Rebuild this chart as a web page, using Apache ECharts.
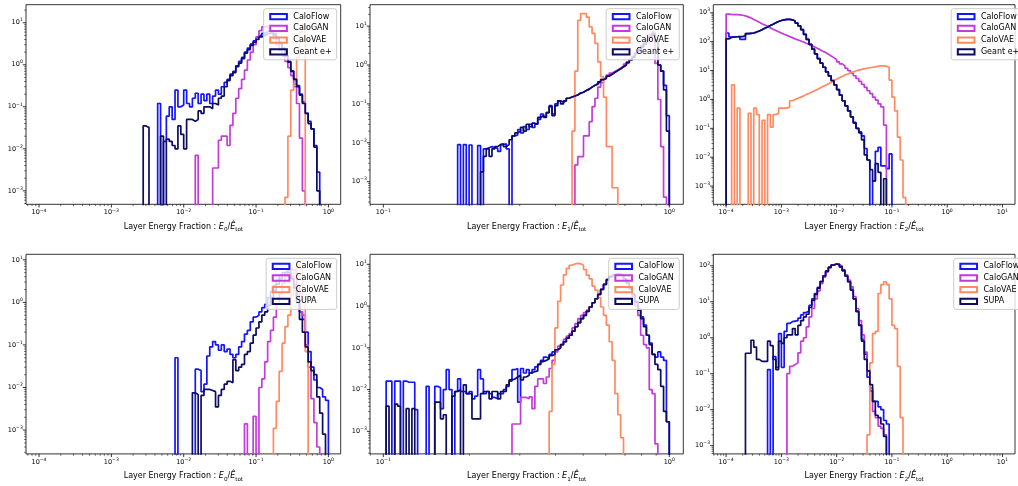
<!DOCTYPE html>
<html>
<head>
<meta charset="utf-8">
<script src="https://cdn.jsdelivr.net/npm/echarts@6/dist/echarts.min.js"></script>
<style>
  html, body { margin: 0; padding: 0; background: #ffffff; }
  #chart { width: 1018px; height: 486px; }
</style>
</head>
<body>
<div id="chart"></div>
<script>
// ---------------------------------------------------------------
// Binning of each layer: [log10 first edge, log10 last edge, bins]
// ---------------------------------------------------------------
const binsE0 = [-4, 0, 100];
const binsE1 = [-1, 0, 100];
const binsE2 = [-4, 1, 100];

const namesTop = ['CaloFlow', 'CaloGAN', 'CaloVAE', 'Geant e+'];
const namesBottom = ['CaloFlow', 'CaloGAN', 'CaloVAE', 'SUPA'];
const lineColors = ['#1414ff', '#c43bdc', '#ff8a62', '#0c0c60'];

// Visible axis ranges (log10) of each panel
const xRangeE0 = [-4.18, 0.17];
const xRangeE1 = [-1.0465, 0.049];
const xRangeE2 = [-4.232, 1.227];
const yRanges = [[-3.32, 1.43], [-3.58, 1.55], [-3.63, 3.28], [-3.56, 1.13], [-3.54, 1.24], [-3.23, 2.32]];

// ---------------------------------------------------------------
// Normalised histogram heights: index of first filled bin + heights
// ---------------------------------------------------------------
// Layer 0, Geant e+ comparison
const e0TopFlowFirst = 41;
const e0TopFlow = [0.12, 0, 0.015, 0.06, 0.1, 0.05, 0.25, 0.1, 0.11, 0.25, 0.12, 0.1, 0.16, 0.21, 0.12, 0.2, 0.14, 0.2, 0.12, 0.18, 0.25, 0.2, 0.3, 0.38, 0.45, 0.6, 0.7, 0.95, 1.2, 1.5, 2.0, 2.5, 3.1, 3.7, 4.4, 5.0, 5.6, 6.2, 6.6, 6.3, 5.5, 4.5, 3.4, 2.5, 1.7, 1.2, 0.72, 0.45, 0.32, 0.2, 0.13, 0.07, 0.045, 0.03, 0.012, 0.0028];
const e0TopGanFirst = 54;
const e0TopGan = [0.007, 0, 0, 0, 0, 0, 0.0035, 0.0035, 0.016, 0.02, 0.02, 0.012, 0.036, 0.07, 0.16, 0.27, 0.45, 0.75, 1.3, 2.0, 3.0, 4.6, 6.5, 8.0, 8.5, 7.5, 5.8, 4.2, 3.0, 2.2, 1.6, 1.2, 0.85, 0.55, 0.3, 0.12, 0.018, 0.001];
const e0TopVaeFirst = 85;
const e0TopVae = [0.0007, 0.02, 0.25, 0.35, 1.5, 6, 9];
const e0TopGeantFirst = 36;
const e0TopGeant = [0.035, 0.032, 0, 0, 0, 0, 0.02, 0, 0.017, 0.015, 0.012, 0.01, 0.035, 0.022, 0.01, 0.05, 0.05, 0.045, 0.05, 0.08, 0.07, 0.1, 0.1, 0.09, 0.12, 0.11, 0.16, 0.18, 0.3, 0.42, 0.55, 0.65, 0.9, 1.1, 1.4, 1.9, 2.3, 2.9, 3.4, 4.0, 4.6, 5.0, 5.4, 5.7, 5.6, 5.0, 4.2, 3.2, 2.4, 1.6, 1.15, 0.7, 0.45, 0.3, 0.19, 0.12, 0.07, 0.04, 0.03, 0.011, 0.001];

// Layer 1, Geant e+ comparison
const e1TopFlowFirst = 26;
const e1TopFlow = [0.009, 0, 0.009, 0, 0.0088, 0, 0, 0.0085, 0, 0.007, 0.0075, 0.008, 0.0075, 0.0072, 0.006, 0.009, 0.0095, 0.007, 0, 0.015, 0.016, 0.022, 0.018, 0.026, 0.022, 0.03, 0.025, 0.03, 0.04, 0.055, 0.045, 0.06, 0.09, 0.055, 0.1, 0.12, 0.11, 0.12, 0.14, 0.15, 0.16, 0.17, 0.19, 0.2, 0.22, 0.24, 0.27, 0.3, 0.33, 0.37, 0.42, 0.46, 0.52, 0.58, 0.65, 0.72, 0.8, 0.9, 1.0, 1.15, 1.35, 1.6, 2.0, 2.4, 2.9, 3.5, 4.3, 5.3, 6.3, 4.5, 1.0, 0.7, 0.3, 0.05];
const e1TopGanFirst = 67;
const e1TopGan = [0.0027, 0.0044, 0.0044, 0.015, 0.015, 0.035, 0.085, 0.14, 0.27, 0.35, 0.45, 0.55, 0.62, 0.68, 0.75, 0.83, 0.93, 1.05, 1.2, 1.4, 1.7, 2.1, 2.6, 3.2, 3.9, 4.8, 6.0, 7.0, 1.1, 0.13, 0.008, 0.0004];
const e1TopVaeFirst = 66;
const e1TopVae = [0.02, 0.7, 14, 21, 21, 17, 9.5, 6.5, 3.6, 1.2, 0.5, 0.15, 0.008, 0.008, 0.0007, 0.0007];
const e1TopGeantFirst = 34;
const e1TopGeant = [0.0018, 0.0045, 0.007, 0.0045, 0.007, 0.008, 0.009, 0.0095, 0.008, 0.009, 0.012, 0.015, 0.018, 0.02, 0.025, 0.02, 0.03, 0.026, 0.032, 0.03, 0.045, 0.05, 0.045, 0.06, 0.085, 0.05, 0.09, 0.12, 0.1, 0.12, 0.14, 0.15, 0.16, 0.17, 0.19, 0.2, 0.22, 0.24, 0.27, 0.3, 0.32, 0.37, 0.42, 0.46, 0.52, 0.58, 0.65, 0.72, 0.8, 0.9, 1.0, 1.15, 1.35, 1.6, 2.0, 2.4, 2.9, 3.5, 4.3, 5.3, 6.2, 4.0, 1.0, 0.7, 0.23, 0.02];

// Layer 2, Geant e+ comparison
const e2TopFlowFirst = 0;
const e2TopFlow = [200, 145, 145, 148, 150, 120, 120, 190, 195, 200, 215, 235, 260, 290, 320, 360, 400, 450, 500, 540, 570, 590, 590, 570, 520, 440, 350, 260, 180, 120, 80, 55, 38, 26, 18, 13, 9, 6.5, 4.5, 3.2, 2.2, 1.4, 0.9, 0.6, 0.4, 0.25, 0.15, 0.1, 0.075, 0.055, 0.02, 0.008, 0, 0.0015, 0.016, 0.022, 0.005, 0.005, 0.004, 0.013];
const e2TopGanFirst = 0;
const e2TopGan = [900, 880, 870, 860, 850, 820, 780, 720, 660, 590, 530, 470, 420, 380, 340, 300, 270, 245, 220, 200, 180, 165, 150, 138, 125, 115, 106, 97, 88, 80, 73, 66, 59, 53, 47, 42, 37, 32, 28, 24, 20, 17, 14.5, 12, 10, 8.2, 6.6, 5.3, 4.2, 3.3, 2.6, 2.0, 1.6, 1.2, 0.95, 0.7, 0.55, 0.13];
const e2TopVaeFirst = 2;
const e2TopVae = [3.2, 0, 0.5, 0, 0, 0, 0.33, 0, 0.5, 0.3, 0, 0.19, 0, 0.3, 0.11, 0.3, 0.33, 0.5, 0.5, 0.5, 0.55, 0.9, 1.0, 1.1, 1.2, 1.3, 1.5, 1.6, 1.8, 2.0, 2.2, 2.5, 2.8, 3.1, 3.5, 3.9, 4.5, 5.0, 5.6, 6.2, 7.0, 7.6, 8.3, 9.0, 9.7, 10.3, 11, 11.5, 12, 12.5, 13, 13.5, 14, 14.5, 14.5, 14, 13, 4.7, 1.2, 0.4, 0.05, 0.008, 0.0004];
const e2TopGeantFirst = 0;
const e2TopGeant = [125, 140, 145, 148, 150, 150, 160, 190, 195, 200, 215, 235, 260, 290, 320, 360, 400, 450, 500, 540, 570, 590, 590, 570, 520, 440, 350, 260, 180, 120, 80, 55, 38, 26, 18, 13, 9, 6.5, 4.5, 3.2, 2.2, 1.4, 0.9, 0.6, 0.4, 0.25, 0.16, 0.1, 0.07, 0.04, 0.012, 0.008, 0.0037, 0.0015, 0.006, 0.003, 0, 0.0018];

// Layer 0, SUPA comparison
const e0BotFlowFirst = 47;
const e0BotFlow = [0.05, 0, 0, 0, 0, 0, 0, 0.027, 0.025, 0.008, 0.012, 0.055, 0.09, 0.12, 0.1, 0.075, 0.1, 0.07, 0.08, 0.06, 0.05, 0.06, 0.09, 0.12, 0.18, 0.22, 0.35, 0.45, 0.5, 0.6, 0.75, 0.9, 1.3, 1.8, 2.5, 3.3, 4.2, 5.0, 5.5, 5.2, 4.0, 2.5, 1.2, 0.6, 0.4, 0.2, 0.07, 0.03, 0.015, 0.01, 0.009, 0.006, 0.005];
const e0BotGanFirst = 71;
const e0BotGan = [0.0014, 0, 0, 0.0021, 0, 0.01, 0.016, 0.04, 0.12, 0.22, 0.45, 0.9, 1.6, 2.8, 4.2, 5.5, 6.0, 5.5, 2.5, 0.6, 0.5, 0.1, 0.03, 0.0055, 0.0015, 0.0004];
const e0BotVaeFirst = 81;
const e0BotVae = [0.0011, 0.0047, 0.024, 0.11, 0.27, 0.5, 1.5, 5, 7.5, 6, 1.0, 0.07];
const e0BotSupaFirst = 53;
const e0BotSupa = [0.0075, 0.0068, 0, 0.0065, 0.009, 0.009, 0.0085, 0.008, 0.0035, 0.0065, 0.009, 0.012, 0.014, 0.013, 0.045, 0.025, 0.03, 0.035, 0.06, 0.07, 0.11, 0.17, 0.25, 0.35, 0.5, 0.6, 0.85, 1.3, 1.9, 2.7, 3.6, 4.4, 5.0, 4.8, 3.6, 2.2, 1.0, 0.4, 0.2, 0.09, 0.04, 0.025, 0.02, 0.006, 0.0025, 0.0008];

// Layer 1, SUPA comparison
const e1BotFlowFirst = 1;
const e1BotFlow = [0.016, 0.016, 0, 0.016, 0.016, 0, 0.016, 0.015, 0.015, 0.015, 0.0033, 0, 0, 0, 0.012, 0, 0, 0.012, 0.011, 0.0035, 0.01, 0.03, 0.01, 0, 0.009, 0.018, 0.009, 0.009, 0.008, 0.009, 0.006, 0.007, 0.03, 0.018, 0.008, 0.009, 0.008, 0.0065, 0.006, 0.008, 0.008, 0.01, 0.012, 0.016, 0.03, 0.032, 0.005, 0.032, 0.025, 0.03, 0.025, 0.03, 0.035, 0.04, 0.05, 0.06, 0.055, 0.07, 0.08, 0.09, 0.1, 0.12, 0.14, 0.17, 0.2, 0.25, 0.32, 0.4, 0.5, 0.6, 0.75, 0.95, 1.2, 1.5, 1.9, 2.5, 3.3, 4.3, 5.1, 5.6, 5.9, 5.8, 5.3, 4.5, 3.6, 2.7, 1.9, 1.3, 0.85, 0.55, 0.35, 0.2, 0.13, 0.07, 0.06, 0.08, 0.06, 0.05, 0.0017];
const e1BotGanFirst = 45;
const e1BotGan = [0.0015, 0.0015, 0.0015, 0.0065, 0.0065, 0.006, 0.0067, 0.0035, 0.012, 0.018, 0.018, 0.014, 0.02, 0.032, 0.05, 0.08, 0.11, 0.12, 0.16, 0.19, 0.22, 0.3, 0.38, 0.5, 0.6, 0.7, 0.8, 0.95, 1.2, 1.5, 1.9, 2.5, 3.3, 4.3, 5.1, 5.7, 6.0, 5.9, 5.4, 4.5, 3.5, 2.5, 1.7, 1.0, 0.6, 0.2, 0.12, 0.1, 0.01, 0.008, 0.0005];
const e1BotVaeFirst = 58;
const e1BotVae = [0.003, 0.04, 0.3, 1.3, 3.2, 5.6, 8, 9.5, 10.2, 10.5, 10.3, 9.5, 7.5, 5.5, 4.5, 3.0, 2.4, 1.6, 0.95, 0.6, 0.35, 0.14, 0.05, 0.008, 0.0025, 0.0007];
const e1BotSupaFirst = 1;
const e1BotSupa = [0.004, 0, 0, 0.0045, 0.004, 0, 0, 0.0035, 0, 0.0035, 0, 0, 0, 0, 0, 0, 0, 0.005, 0.005, 0.002, 0.0025, 0, 0, 0.007, 0.009, 0.01, 0, 0.013, 0.008, 0.008, 0.002, 0.002, 0.002, 0.008, 0.009, 0.009, 0.006, 0.009, 0.009, 0.006, 0.009, 0.009, 0.013, 0.017, 0.018, 0.02, 0.022, 0.017, 0.02, 0.022, 0.025, 0.027, 0.028, 0.04, 0.047, 0.05, 0.055, 0.065, 0.07, 0.09, 0.1, 0.12, 0.14, 0.17, 0.2, 0.25, 0.32, 0.4, 0.5, 0.6, 0.75, 0.95, 1.2, 1.5, 1.9, 2.5, 3.3, 4.3, 5.1, 5.6, 5.9, 5.8, 5.3, 4.5, 3.6, 2.7, 1.9, 1.25, 0.8, 0.5, 0.32, 0.2, 0.12, 0.07, 0.04, 0.03, 0.012, 0.003, 0.0017];

// Layer 2, SUPA comparison
const e2BotFlowFirst = 15;
const e2BotFlow = [0.13, 0, 0.3, 0.15, 1.3, 0.15, 1.5, 2.5, 2.8, 2.9, 3.0, 3.5, 4.3, 5.0, 5.5, 8, 12, 17, 25, 37, 52, 72, 92, 106, 112, 108, 92, 72, 52, 36, 22, 12, 5.5, 2.3, 0.9, 0.35, 0.08, 0.033, 0.017, 0.017, 0.012, 0.01, 0.005, 0.004];
const e2BotGanFirst = 22;
const e2BotGan = [0.1, 0.16, 0.18, 0.2, 0.38, 0.8, 1.0, 2.0, 3.8, 6.5, 12, 20, 32, 48, 68, 88, 105, 112, 110, 98, 78, 56, 40, 26, 14, 6.5, 3.0, 1.2, 0.4, 0.12, 0.04, 0.009, 0.006, 0.0035, 0.003, 0.002];
const e2BotVaeFirst = 51;
const e2BotVae = [0.002, 0.2, 1.3, 1.5, 17, 30, 36, 30, 12, 2.2, 1.8, 0.16, 0.006];
const e2BotSupaFirst = 7;
const e2BotSupa = [0.37, 0.37, 0.85, 0.55, 0.25, 0.22, 0.22, 0.22, 0.8, 0.6, 0.25, 0.13, 0.8, 0.7, 1.0, 1.2, 1.2, 1.8, 1.2, 2.2, 3.0, 3.8, 4.5, 7, 11, 16, 24, 36, 52, 70, 90, 105, 112, 110, 95, 75, 52, 36, 21, 12, 5.3, 2.2, 0.8, 0.25, 0.12, 0.05, 0.017, 0.007, 0.006, 0.004, 0.0018];

// ---------------------------------------------------------------
// Page layout of the 2 x 3 panels (pixels)
// ---------------------------------------------------------------
const colLeft = [26, 370, 713.3];
const colWidth = [314.7, 313.3, 315];
const rowTop = [4.7, 254.3];
const rowHeight = 199.6;
const FONT = 'DejaVu Sans';
const EMPTY = 1e-9;   // stands in for empty bins on the log axis

const panels = [
  { bins: binsE0, xr: xRangeE0, layer: 0, names: namesTop,
    hists: [[e0TopFlowFirst, e0TopFlow], [e0TopGanFirst, e0TopGan], [e0TopVaeFirst, e0TopVae], [e0TopGeantFirst, e0TopGeant]] },
  { bins: binsE1, xr: xRangeE1, layer: 1, names: namesTop,
    hists: [[e1TopFlowFirst, e1TopFlow], [e1TopGanFirst, e1TopGan], [e1TopVaeFirst, e1TopVae], [e1TopGeantFirst, e1TopGeant]] },
  { bins: binsE2, xr: xRangeE2, layer: 2, names: namesTop,
    hists: [[e2TopFlowFirst, e2TopFlow], [e2TopGanFirst, e2TopGan], [e2TopVaeFirst, e2TopVae], [e2TopGeantFirst, e2TopGeant]] },
  { bins: binsE0, xr: xRangeE0, layer: 0, names: namesBottom,
    hists: [[e0BotFlowFirst, e0BotFlow], [e0BotGanFirst, e0BotGan], [e0BotVaeFirst, e0BotVae], [e0BotSupaFirst, e0BotSupa]] },
  { bins: binsE1, xr: xRangeE1, layer: 1, names: namesBottom,
    hists: [[e1BotFlowFirst, e1BotFlow], [e1BotGanFirst, e1BotGan], [e1BotVaeFirst, e1BotVae], [e1BotSupaFirst, e1BotSupa]] },
  { bins: binsE2, xr: xRangeE2, layer: 2, names: namesBottom,
    hists: [[e2BotFlowFirst, e2BotFlow], [e2BotGanFirst, e2BotGan], [e2BotVaeFirst, e2BotVae], [e2BotSupaFirst, e2BotSupa]] }
];

function binEdges(spec) {
  const [a, b, n] = spec;
  const e = [];
  for (let i = 0; i <= n; i++) e.push(Math.pow(10, a + (b - a) * i / n));
  return e;
}

// Outline of a step histogram: rises from the floor at the first edge,
// runs across every bin and falls back at the last edge.
function stepOutline(spec, first, heights) {
  const e = binEdges(spec);
  const pts = [[e[first], EMPTY]];
  heights.forEach((h, k) => pts.push([e[first + k], h > 0 ? h : EMPTY]));
  pts.push([e[first + heights.length], EMPTY]);
  return pts;
}

// Major (decades) and minor (2..9 x decade) tick positions inside a range
function logTicks(r) {
  const out = [];
  for (let k = Math.floor(r[0]); k <= Math.ceil(r[1]); k++) {
    for (let m = 1; m <= 9; m++) {
      const v = m * Math.pow(10, k);
      const lv = Math.log10(v);
      if (lv >= r[0] - 1e-9 && lv <= r[1] + 1e-9) out.push([v, m === 1 ? 1 : 0]);
    }
  }
  return out;
}

function powLabel(v) {
  const e = Math.log10(v);
  const r = Math.round(e);
  if (Math.abs(e - r) > 1e-6) return '';
  const exp = r < 0 ? '\u2212' + (-r) : String(r);
  return '{b|10}{s|' + exp + '}';
}

const labelRich = {
  b: { fontSize: 6.5, lineHeight: 10, fontFamily: FONT, color: '#000' },
  s: { fontSize: 4.6, lineHeight: 5, fontFamily: FONT, color: '#000', verticalAlign: 'top' }
};

const grids = [], xAxes = [], yAxes = [], legends = [], series = [];

panels.forEach((p, idx) => {
  const row = Math.floor(idx / 3), col = idx % 3;
  const yr = yRanges[idx];
  grids.push({
    left: colLeft[col], top: rowTop[row], width: colWidth[col], height: rowHeight,
    show: true, borderColor: '#000', borderWidth: 0.8, backgroundColor: 'transparent', containLabel: false
  });
  xAxes.push({
    type: 'log', logBase: 10, gridIndex: idx,
    min: Math.pow(10, p.xr[0]), max: Math.pow(10, p.xr[1]),
    splitNumber: 10,
    axisLine: { show: false }, axisTick: { show: false }, splitLine: { show: false },
    axisLabel: { formatter: powLabel, rich: labelRich, margin: 3.5, color: '#000' },
    name: 'Layer Energy Fraction : {i|E}{sub|' + p.layer + '}/{i|\u00CA}{sub|tot}',
    nameLocation: 'middle', nameGap: 16.5,
    nameTextStyle: {
      fontSize: 8, fontFamily: FONT, color: '#000', lineHeight: 12,
      rich: {
        i: { fontSize: 8, fontFamily: FONT, fontStyle: 'italic', color: '#000', lineHeight: 12 },
        sub: { fontSize: 5.6, fontFamily: FONT, color: '#000', lineHeight: 6, verticalAlign: 'bottom' }
      }
    }
  });
  yAxes.push({
    type: 'log', logBase: 10, gridIndex: idx,
    min: Math.pow(10, yr[0]), max: Math.pow(10, yr[1]),
    splitNumber: 10,
    axisLine: { show: false }, axisTick: { show: false }, splitLine: { show: false },
    axisLabel: { formatter: powLabel, rich: labelRich, margin: 3.2, color: '#000' }
  });

  p.hists.forEach((h, k) => {
    series.push({
      type: 'line', name: p.names[k], xAxisIndex: idx, yAxisIndex: idx,
      data: stepOutline(p.bins, h[0], h[1]),
      step: 'end', symbol: 'none', showSymbol: false, clip: true,
      lineStyle: { color: lineColors[k], width: 1.7 },
      itemStyle: { color: lineColors[k] },
      silent: true, animation: false, z: 2 + k * 0.01
    });
  });

  // frame ticks (outward), major at decades, minor in between
  const tickData = [];
  logTicks(p.xr).forEach(t => tickData.push([t[0], Math.pow(10, yr[0]), 0, t[1]]));
  logTicks(yr).forEach(t => tickData.push([Math.pow(10, p.xr[0]), t[0], 1, t[1]]));
  series.push({
    type: 'custom', xAxisIndex: idx, yAxisIndex: idx, silent: true, animation: false, clip: false, z: 3,
    data: tickData,
    renderItem: function (params, api) {
      const pt = api.coord([api.value(0), api.value(1)]);
      const major = api.value(3) === 1;
      const len = major ? 3.2 : 1.8;
      const w = major ? 0.8 : 0.6;
      const shape = api.value(2) === 0
        ? { x1: pt[0], y1: pt[1], x2: pt[0], y2: pt[1] + len }
        : { x1: pt[0], y1: pt[1], x2: pt[0] - len, y2: pt[1] };
      return { type: 'line', shape: shape, style: { stroke: '#000', lineWidth: w } };
    }
  });

  legends.push({
    orient: 'vertical',
    right: 1018 - (colLeft[col] + colWidth[col] - 4),
    top: rowTop[row] + 4,
    padding: [4, 5, 4, 5.6],
    itemGap: 3.7, itemWidth: 16.7, itemHeight: 5.3,
    backgroundColor: 'rgba(255,255,255,0.8)',
    borderColor: '#cccccc', borderWidth: 1, borderRadius: 2.5,
    selectedMode: false,
    textStyle: { fontSize: 8, fontFamily: FONT, color: '#000', lineHeight: 8, padding: [0, 0, 0, 1.4] },
    data: p.names.map((n, k) => ({
      name: n, icon: 'rect',
      itemStyle: { color: 'rgba(255,255,255,0)', borderColor: lineColors[k], borderWidth: 2 }
    }))
  });
});

const chart = echarts.init(document.getElementById('chart'), null, { renderer: 'canvas' });
chart.setOption({
  backgroundColor: '#ffffff',
  animation: false,
  textStyle: { fontFamily: FONT },
  grid: grids,
  xAxis: xAxes,
  yAxis: yAxes,
  legend: legends,
  series: series
});
</script>
</body>
</html>
